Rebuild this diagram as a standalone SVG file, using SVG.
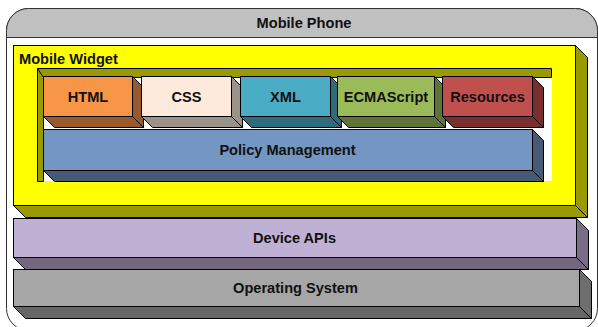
<svg xmlns="http://www.w3.org/2000/svg" width="598" height="327" viewBox="0 0 598 327">
<defs>
<style>
.e{stroke:#000;stroke-width:1;stroke-linejoin:miter}
.t{font-family:"Liberation Sans",Arial,sans-serif;font-weight:bold;font-size:14.6px;fill:#111}
.c{text-anchor:middle}
</style>
</defs>
<g id="mobile-phone">
<rect x="6.5" y="8.5" width="591" height="322" rx="22" ry="22" fill="#fff" stroke="#333" stroke-width="1"/>
<path d="M6.5,37.5 V30.5 A22,22 0 0 1 28.5,8.5 H575.5 A22,22 0 0 1 597.5,30.5 V37.5 Z" fill="#c0c0c0" stroke="#333" stroke-width="1"/>
<text class="t c" x="304" y="27.5">Mobile Phone</text>
</g>
<g id="mobile-widget">
<rect class="e" x="13.5" y="45.5" width="562" height="160" fill="#ffff00"/>
<polygon class="e" points="575.5,45.5 587.5,57.5 587.5,217.5 575.5,205.5" fill="#999900"/>
<polygon class="e" points="13.5,205.5 575.5,205.5 587.5,217.5 25.5,217.5" fill="#999900"/>
<text class="t" x="19" y="63.5">Mobile Widget</text>
<rect x="43" y="77" width="509" height="104" fill="#fff"/>
<path class="e" d="M37.5,68.5 H551.5 V77.5 H43.5 V181.5 H37.5 Z" fill="#999900"/>
<line class="e" x1="37.5" y1="68.5" x2="43.5" y2="77.5"/>
</g>
<g id="html">
<polygon class="e" points="132.5,76.5 143.5,87.5 143.5,127.5 132.5,116.5" fill="#98592c"/>
<polygon class="e" points="43.5,116.5 132.5,116.5 143.5,127.5 54.5,127.5" fill="#98592c"/>
<rect class="e" x="43.5" y="76.5" width="89" height="40" fill="#f79646"/>
<text class="t c" x="88" y="101.5">HTML</text>
</g>
<g id="css">
<polygon class="e" points="231.5,76.5 242.5,87.5 242.5,127.5 231.5,116.5" fill="#9b928a"/>
<polygon class="e" points="141.5,116.5 231.5,116.5 242.5,127.5 152.5,127.5" fill="#9b928a"/>
<rect class="e" x="141.5" y="76.5" width="90" height="40" fill="#fdeada"/>
<text class="t c" x="186.5" y="101.5">CSS</text>
</g>
<g id="xml">
<polygon class="e" points="330.5,76.5 341.5,87.5 341.5,127.5 330.5,116.5" fill="#2e6b7c"/>
<polygon class="e" points="240.5,116.5 330.5,116.5 341.5,127.5 251.5,127.5" fill="#2e6b7c"/>
<rect class="e" x="240.5" y="76.5" width="90" height="40" fill="#4bacc6"/>
<text class="t c" x="285.5" y="101.5">XML</text>
</g>
<g id="ecmascript">
<polygon class="e" points="434.5,76.5 445.5,87.5 445.5,127.5 434.5,116.5" fill="#5f7337"/>
<polygon class="e" points="337.5,116.5 434.5,116.5 445.5,127.5 348.5,127.5" fill="#5f7337"/>
<rect class="e" x="337.5" y="76.5" width="97" height="40" fill="#9bbb59"/>
<text class="t c" x="386" y="101.5">ECMAScript</text>
</g>
<g id="resources">
<polygon class="e" points="532.5,76.5 543.5,87.5 543.5,127.5 532.5,116.5" fill="#762f2d"/>
<polygon class="e" points="442.5,116.5 532.5,116.5 543.5,127.5 453.5,127.5" fill="#762f2d"/>
<rect class="e" x="442.5" y="76.5" width="90" height="40" fill="#c0504d"/>
<text class="t c" x="487.5" y="101.5">Resources</text>
</g>
<g id="policy-management">
<polygon class="e" points="532.5,129.5 543.5,140.5 543.5,181.5 532.5,170.5" fill="#465a78"/>
<polygon class="e" points="43.5,170.5 532.5,170.5 543.5,181.5 54.5,181.5" fill="#465a78"/>
<rect class="e" x="43.5" y="129.5" width="489" height="41" fill="#7396c2"/>
<text class="t c" x="287.5" y="155">Policy Management</text>
</g>
<g id="device-apis">
<polygon class="e" points="576.5,218.5 588.5,230.5 588.5,269.5 576.5,257.5" fill="#7a6d88"/>
<polygon class="e" points="13.5,257.5 576.5,257.5 588.5,269.5 25.5,269.5" fill="#736880"/>
<rect class="e" x="13.5" y="218.5" width="563" height="39" fill="#bfb1d3"/>
<text class="t c" x="294.5" y="243">Device APIs</text>
</g>
<g id="operating-system">
<polygon class="e" points="579.5,269.5 591.5,281.5 591.5,318.5 579.5,306.5" fill="#6e6e6e"/>
<polygon class="e" points="13.5,306.5 579.5,306.5 591.5,318.5 25.5,318.5" fill="#666666"/>
<rect class="e" x="13.5" y="269.5" width="566" height="37" fill="#a6a6a6"/>
<text class="t c" x="295.5" y="293">Operating System</text>
</g>
</svg>
